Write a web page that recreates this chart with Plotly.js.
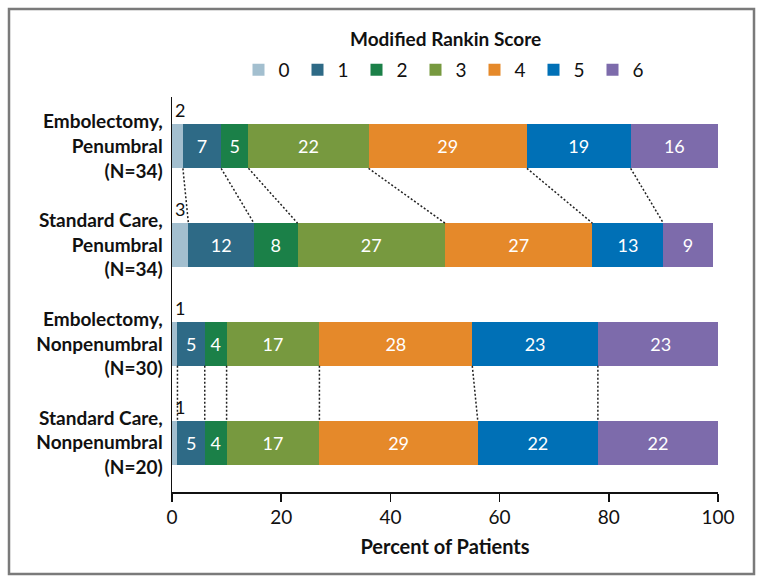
<!DOCTYPE html>
<html>
<head>
<meta charset="utf-8">
<script src="https://cdn.plot.ly/plotly-3.0.1.min.js"></script>
<style>body{margin:0;background:#fff}</style>
</head>
<body>
<div id="chart" style="width:764px;height:584px"></div>
<script>
// rows, top to bottom
var groups = ['Embolectomy,<br>Penumbral<br>(N=34)', 'Standard Care,<br>Penumbral<br>(N=34)',
              'Embolectomy,<br>Nonpenumbral<br>(N=30)', 'Standard Care,<br>Nonpenumbral<br>(N=20)'];
var scores = ['0', '1', '2', '3', '4', '5', '6'];
var colors = ['#A3BFCF', '#2E6A86', '#1B8048', '#77993F', '#E5892A', '#0070B6', '#7D6BAB'];

// percent of patients per modified Rankin score
var embPen = [2, 7, 5, 22, 29, 19, 16];
var stdPen = [3, 12, 8, 27, 27, 13, 9];
var embNon = [1, 5, 4, 17, 28, 23, 23];
var stdNon = [1, 5, 4, 17, 29, 22, 22];

var rows = [embPen, stdPen, embNon, stdNon];
var yPos = [3, 2, 1, 0];
var barW = 0.445;
var font = 'Lato, "Open Sans", sans-serif';

var data = [];
scores.forEach(function (s, i) {
  var vals = rows.map(function (r) { return r[i]; });
  data.push({
    type: 'bar',
    orientation: 'h',
    name: s,
    x: vals,
    y: yPos,
    width: barW,
    text: i === 0 ? vals.map(function () { return ''; }) : vals.map(String),
    textposition: 'inside',
    insidetextanchor: 'middle',
    textangle: 0,
    insidetextfont: {color: '#fff', size: 18, family: font},
    marker: {color: colors[i], line: {width: 0}},
    hoverinfo: 'none'
  });
});

// dotted connectors between paired bars at the segment boundaries
function cum(r) {
  var out = [], t = 0;
  r.forEach(function (v) { t += v; out.push(t); });
  return out;
}
[[0, 1], [2, 3]].forEach(function (p) {
  var a = cum(rows[p[0]]), b = cum(rows[p[1]]);
  var xs = [], ys = [];
  for (var i = 0; i < 6; i++) {
    xs.push(a[i], b[i], null);
    ys.push(yPos[p[0]] - barW / 2, yPos[p[1]] + barW / 2, null);
  }
  data.push({
    type: 'scatter', mode: 'lines', x: xs, y: ys, showlegend: false, hoverinfo: 'none',
    line: {color: '#222', width: 1.5, dash: '2px,2px'}
  });
});

var L = 172, R = 46, T = 97, B = 92, W = 764, H = 584;
var pw = W - L - R, ph = H - T - B;
function px(x) { return (x - L) / pw; }
function py(y) { return (H - B - y) / ph; }

// score-0 values written above the bars
var annotations = rows.map(function (r, k) {
  return {
    x: 0, y: yPos[k] + barW / 2, xref: 'x', yref: 'y',
    text: String(r[0]), showarrow: false,
    xanchor: 'left', yanchor: 'bottom', xshift: 1, yshift: 1,
    font: {size: 18, color: '#111', family: font}
  };
});
annotations.push({
  x: 0.5, y: py(38), xref: 'paper', yref: 'paper', xanchor: 'center', yanchor: 'middle',
  text: 'Modified Rankin Score', showarrow: false,
  font: {size: 19, weight: 'bold', color: '#111', family: font}
});

var layout = {
  width: W, height: H,
  margin: {l: L, r: R, t: T, b: B},
  barmode: 'stack',
  bargap: 0,
  paper_bgcolor: '#fff',
  plot_bgcolor: '#fff',
  font: {family: font, color: '#111'},
  showlegend: true,
  legend: {
    orientation: 'h', x: 0.5, xanchor: 'center', y: py(70), yanchor: 'middle',
    traceorder: 'normal', entrywidth: 14,
    font: {size: 19, family: font}
  },
  xaxis: {
    range: [0, 100], tickvals: [0, 20, 40, 60, 80, 100],
    ticks: 'outside', ticklen: 8, tickwidth: 1.5, tickcolor: '#111',
    showline: true, linewidth: 1.5, linecolor: '#111',
    showgrid: false, zeroline: false,
    tickfont: {size: 19, family: font},
    title: {text: 'Percent of Patients', standoff: 12, font: {size: 20, weight: 'bold', family: font}},
    fixedrange: true
  },
  yaxis: {
    range: [-0.5, 3.5], tickvals: yPos, ticktext: groups,
    ticks: '', showline: true, linewidth: 1.5, linecolor: '#111',
    showgrid: false, zeroline: false, ticklabelstandoff: 4,
    tickfont: {size: 19, weight: 'bold', family: font},
    fixedrange: true
  },
  annotations: annotations,
  shapes: [{
    type: 'rect', xref: 'paper', yref: 'paper',
    x0: px(9), x1: px(754), y0: py(574), y1: py(9),
    line: {color: '#7a7a7a', width: 2.5}
  }]
};

Plotly.newPlot('chart', data, layout, {displayModeBar: false, staticPlot: true});
</script>
</body>
</html>
